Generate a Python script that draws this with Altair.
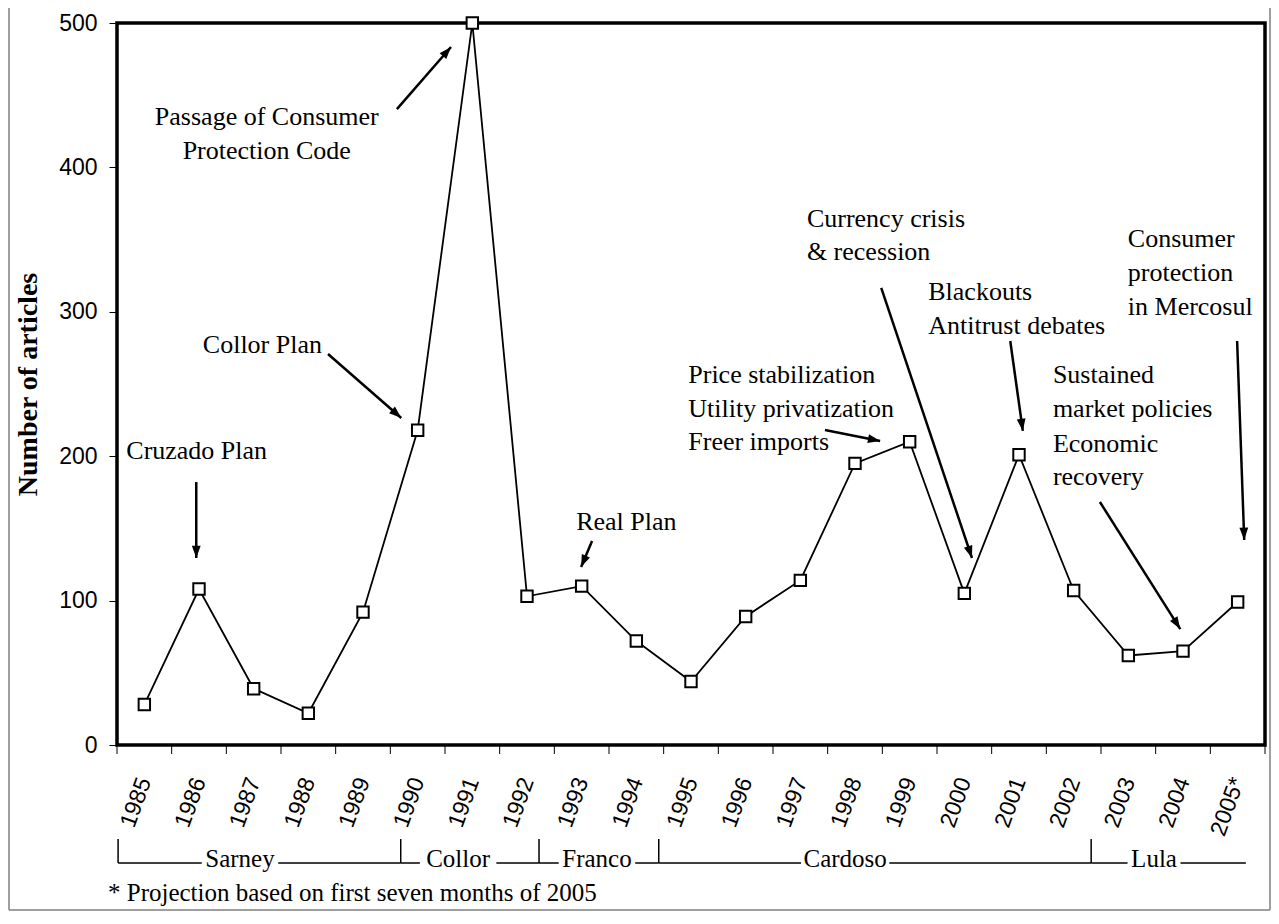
import math
import altair as alt
import pandas as pd

# ---------------- data ----------------
years = list(range(1985, 2006))
year_labels = [str(y) for y in range(1985, 2005)] + ["2005*"]
articles = [28, 108, 39, 22, 92, 218, 500, 103, 110, 72, 44, 89, 114, 195, 210, 105, 201, 107, 62, 65, 99]

presidents = ["Sarney", "Collor", "Franco", "Cardoso", "Lula"]
pres_start = [1985.02, 1990.19, 1992.72, 1994.91, 2002.82]
pres_end = [1990.19, 1992.72, 1994.91, 2002.82, 2005.65]
pres_label_x = [1987.25, 1991.24, 1993.78, 1998.32, 2003.97]

ann_text = ["Passage of Consumer", "Protection  Code", "Collor Plan", "Cruzado Plan", "Real Plan",
            "Price stabilization", "Utility privatization", "Freer imports",
            "Currency crisis", "& recession", "Blackouts", "Antitrust debates",
            "Consumer", "protection", "in Mercosul",
            "Sustained", "market policies", "Economic", "recovery"]
ann_x = [1987.74, 1987.74, 1986.57, 1985.17, 1993.40,
         1995.45, 1995.45, 1995.45,
         1997.62, 1997.62, 1999.84, 1999.84,
         2003.49, 2003.49, 2003.49,
         2002.12, 2002.12, 2002.12, 2002.12]
ann_y = [434.9, 411.4, 277.0, 203.6, 154.4,
         256.2, 232.7, 209.8,
         364.3, 341.4, 313.7, 290.2,
         350.4, 326.9, 303.3,
         256.2, 232.7, 208.4, 185.6]
ann_align = ["center", "center"] + ["left"] * 17

arrow_x1 = [1990.12, 1988.86, 1986.45, 1993.69, 1997.95, 1998.98, 2001.34, 2005.49, 2002.98]
arrow_y1 = [440.4, 270.8, 182.1, 141.3, 218.1, 316.5, 279.8, 279.8, 168.3]
arrow_x2 = [1991.11, 1990.20, 1986.45, 1993.49, 1998.96, 2000.64, 2001.57, 2005.62, 2004.45]
arrow_y2 = [483.4, 226.5, 129.5, 123.3, 210.5, 129.5, 217.5, 142.0, 80.3]

footnote = "* Projection based on first seven months of 2005"

# ---------------- layout constants ----------------
W, H = 1148, 722
X0, X1 = 1985, 2006
YMAX = 500
PXX = W / (X1 - X0)
PXY = H / YMAX
SERIF = "Liberation Serif"
SANS = "Liberation Sans"

xscale = alt.Scale(domain=[X0, X1], nice=False, zero=False)
yscale = alt.Scale(domain=[0, YMAX], nice=False)

label_expr = "[" + ",".join("'" + s + "'" for s in year_labels) + "][floor(datum.value) - 1985]"

X = alt.X("x:Q", scale=xscale, title=None,
          axis=alt.Axis(values=[y + 0.5 for y in years], labelExpr=label_expr, ticks=False, tickSize=0,
                        domain=False, grid=False, labelAngle=290, labelAlign="right",
                        labelBaseline="middle", labelPadding=33, labelFont=SANS, labelFontSize=23,
                        labelColor="black", labelOverlap=False, labelFlush=False, labelBound=False))
Y = alt.Y("y:Q", scale=yscale, title="Number of articles",
          axis=alt.Axis(values=[0, 100, 200, 300, 400, 500], tickSize=8, tickColor="black",
                        domain=False, grid=False, labelFont=SANS, labelFontSize=23, labelColor="black",
                        labelPadding=12, titleFont=SERIF, titleFontSize=28, titleFontWeight="bold",
                        titleColor="black", titlePadding=16))

series = pd.DataFrame({"x": [y + 0.5 for y in years], "y": articles, "label": year_labels})

line = alt.Chart(series).mark_line(color="black", strokeWidth=1.8).encode(x=X, y=Y)
pts = alt.Chart(series).mark_point(shape="square", filled=True, fill="white", stroke="black",
                                   strokeWidth=2, size=130, opacity=1).encode(x=X, y=Y)

# ticks at category boundaries
tick_df = pd.DataFrame({"x": list(range(X0, X1 + 1))})
ticks = alt.Chart(tick_df).mark_rule(color="black", strokeWidth=1).encode(
    x=X, y=alt.value(H), y2=alt.value(H + 9))

# annotations
ann = pd.DataFrame({"x": ann_x, "y": ann_y, "t": ann_text, "align": ann_align})
ann_c = alt.Chart(ann).transform_filter("datum.align == 'center'").mark_text(
    font=SERIF, fontSize=26, align="center", baseline="middle", color="black").encode(x=X, y=Y, text="t:N")
ann_l = alt.Chart(ann).transform_filter("datum.align == 'left'").mark_text(
    font=SERIF, fontSize=26, align="left", baseline="middle", color="black").encode(x=X, y=Y, text="t:N")

# arrows
angles = []
for a, b, c, d in zip(arrow_x1, arrow_y1, arrow_x2, arrow_y2):
    dx = (c - a) * PXX
    dy = (d - b) * PXY
    angles.append(math.degrees(math.atan2(dx, dy)) % 360)
arr = pd.DataFrame({"x": arrow_x1, "y": arrow_y1, "x2": arrow_x2, "y2": arrow_y2, "angle": angles})
arrow_lines = alt.Chart(arr).mark_rule(color="black", strokeWidth=2.5).encode(
    x=X, y=Y, x2="x2:Q", y2="y2:Q")
heads_df = pd.DataFrame({"x": arrow_x2, "y": arrow_y2, "angle": angles})
heads = alt.Chart(heads_df).mark_point(shape="M0,0L-0.36,1L0.36,1Z", filled=True, color="black",
                                       size=600, opacity=1).encode(
    x=X, y=Y, angle=alt.Angle("angle:Q", scale=None))

# presidents
LINE_Y = H + 118
TXT_Y = H + 122
half = [(0.47 * 25 * len(p)) / 2 / PXX + 3 / PXX for p in presidents]
seg_x, seg_x2 = [], []
for s, e, c, h in zip(pres_start, pres_end, pres_label_x, half):
    seg_x += [s, c + h]
    seg_x2 += [c - h, e]
seg_df = pd.DataFrame({"x": seg_x, "x2": seg_x2})
pres_lines = alt.Chart(seg_df).mark_rule(color="black", strokeWidth=1.5).encode(
    x=X, x2="x2:Q", y=alt.value(LINE_Y))
br_df = pd.DataFrame({"x": pres_start})
brackets = alt.Chart(br_df).mark_rule(color="black", strokeWidth=1.5).encode(
    x=X, y=alt.value(LINE_Y - 24), y2=alt.value(LINE_Y))
pres_df = pd.DataFrame({"x": pres_label_x, "t": presidents})
pres_text = alt.Chart(pres_df).mark_text(font=SERIF, fontSize=25, align="center",
                                         baseline="alphabetic", color="black").encode(
    x=X, y=alt.value(TXT_Y), text="t:N")

dummy = pd.DataFrame({"t": [footnote]})
foot = alt.Chart(dummy).mark_text(font=SERIF, fontSize=25, align="left", baseline="alphabetic",
                                  color="black").encode(x=alt.value(-9), y=alt.value(H + 156), text="t:N")

# outer frame
frame_l = alt.Chart(dummy).mark_rule(color="#7f7f7f", strokeWidth=1.5).encode(
    x=alt.value(-108), y=alt.value(-15), y2=alt.value(H + 165))
frame_r = alt.Chart(dummy).mark_rule(color="#7f7f7f", strokeWidth=1.5).encode(
    x=alt.value(W + 5), y=alt.value(-15), y2=alt.value(H + 165))
frame_b = alt.Chart(dummy).mark_rule(color="#7f7f7f", strokeWidth=1.5).encode(
    x=alt.value(-108), x2=alt.value(W + 5), y=alt.value(H + 165))

chart = alt.layer(
    frame_l, frame_r, frame_b, ticks, arrow_lines, heads, line, pts, ann_c, ann_l,
    pres_lines, brackets, pres_text, foot
).properties(
    width=W, height=H,
    autosize=alt.AutoSizeParams(type="none"),
    padding={"left": 109, "top": 15, "right": 6, "bottom": 167},
    background="white",
).configure_view(stroke="black", strokeWidth=3.5)

chart.save("out.html", embed_options={"renderer": "svg", "actions": False})
